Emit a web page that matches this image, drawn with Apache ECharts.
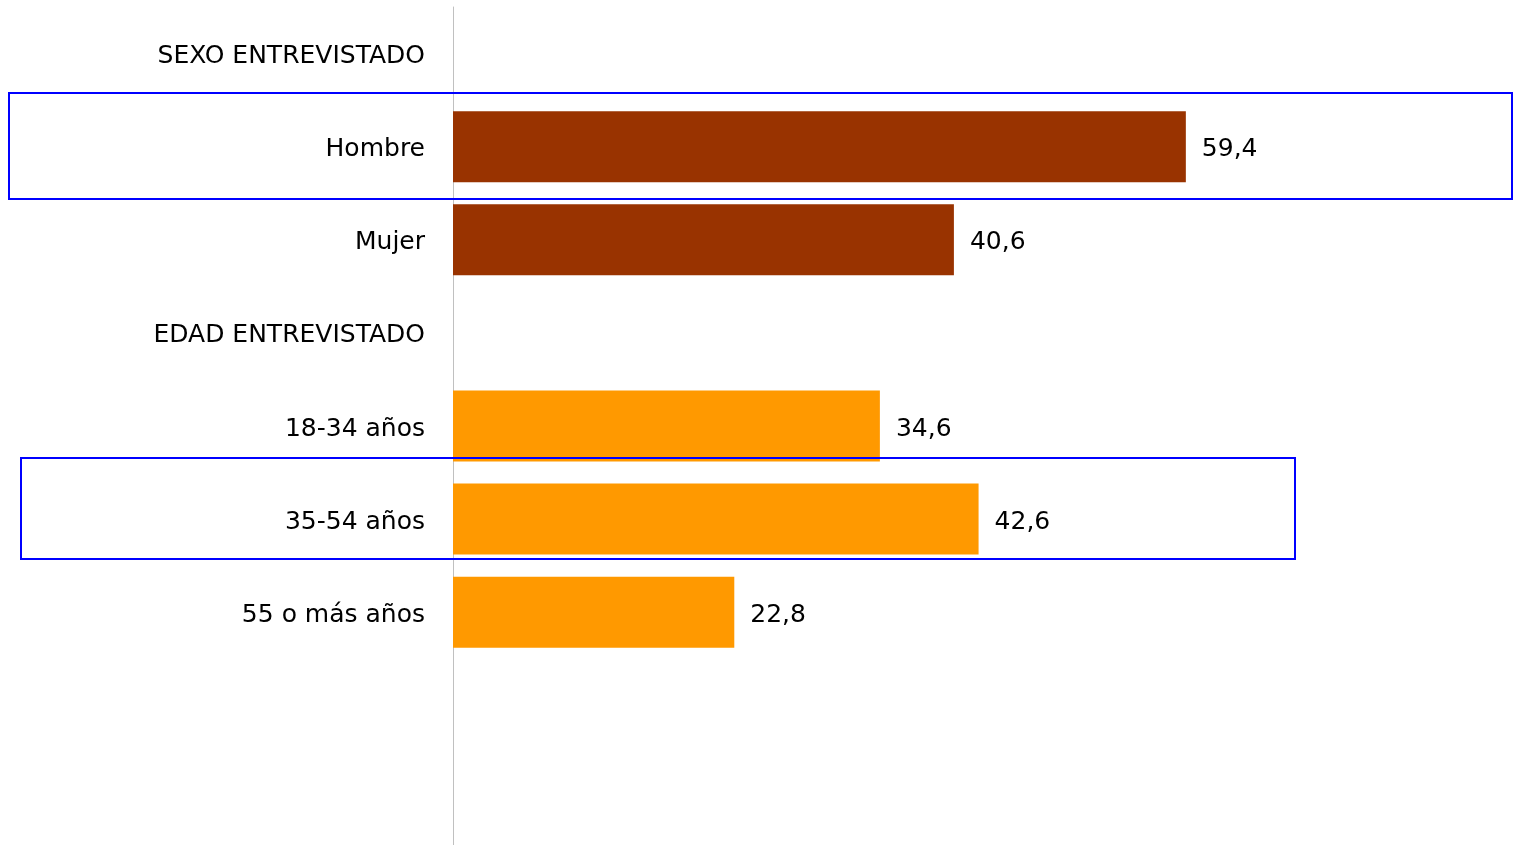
<!DOCTYPE html>
<html>
<head>
<meta charset="utf-8">
<script src="https://cdn.jsdelivr.net/npm/echarts@6/dist/echarts.min.js"></script>
<style>
  html, body { margin: 0; padding: 0; background: #fff; }
  #chart { width: 1513px; height: 845px; }
</style>
</head>
<body>
<div id="chart"></div>
<script>
// categories (empty slots at the end keep the row spacing)
const categories = [
  'SEXO ENTREVISTADO', 'Hombre', 'Mujer',
  'EDAD ENTREVISTADO', '18-34 años', '35-54 años', '55 o más años',
  '', ''
]
const values = [null, 59.4, 40.6, null, 34.6, 42.6, 22.8, null, null]
const groupColors = ['#993300', '#993300', '#993300', '#FF9900', '#FF9900', '#FF9900', '#FF9900', '#FF9900', '#FF9900']
// rows highlighted with a blue frame
const highlighted = [1, 5]

const FONT = 'DejaVu Sans'
const chart = echarts.init(document.getElementById('chart'), null, { renderer: 'canvas' })

chart.setOption({
  animation: false,
  backgroundColor: '#fff',
  grid: { left: 453, right: 73, top: 7, bottom: -4 },
  xAxis: {
    type: 'value',
    min: 0,
    max: 80,
    show: false
  },
  yAxis: {
    type: 'category',
    inverse: true,
    data: categories,
    axisLine: { show: true, lineStyle: { color: '#c0c0c0', width: 1 } },
    axisTick: { show: false },
    axisLabel: {
      margin: 28,
      formatter: v => (v ? '{a|' + v + '}' : ''),
      rich: {
        a: { color: '#000', fontFamily: FONT, fontSize: 25, padding: [6, 0, 0, 0] }
      }
    }
  },
  series: [
    {
      type: 'bar',
      barWidth: 71,
      data: values.map((v, i) => ({ value: v, itemStyle: { color: groupColors[i] } })),
      label: {
        show: true,
        position: 'right',
        distance: 16,
        offset: [0, 3],
        color: '#000',
        fontFamily: FONT,
        fontSize: 25,
        formatter: p => (p.value == null ? '' : p.value.toFixed(1).replace('.', ','))
      }
    }
  ]
})

// blue frames around the highlighted rows
const frameSpecs = [
  { left: 9, right: 1512, top: -54, bottom: 52 },
  { left: 21, right: 1295, top: -61, bottom: 40 }
]
const frames = highlighted.map((idx, k) => {
  const cy = chart.convertToPixel({ yAxisIndex: 0 }, idx)
  const s = frameSpecs[k]
  return {
    type: 'rect',
    shape: { x: s.left, y: Math.round(cy + s.top), width: s.right - s.left, height: s.bottom - s.top },
    style: { fill: 'none', stroke: '#0000ff', lineWidth: 2 },
    z: 100
  }
})
chart.setOption({ graphic: frames })
</script>
</body>
</html>
